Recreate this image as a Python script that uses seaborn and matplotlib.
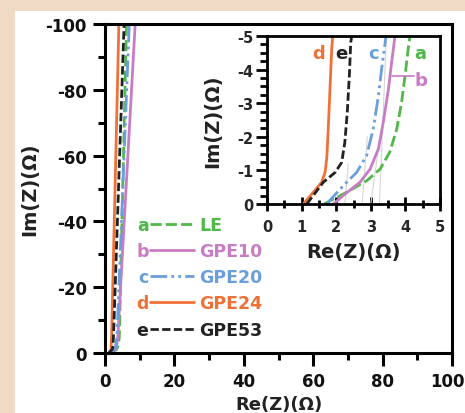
import numpy as np
import pandas as pd
import matplotlib
matplotlib.use("Agg")
import matplotlib.pyplot as plt
from matplotlib.patches import Rectangle
from matplotlib.ticker import MultipleLocator, FuncFormatter
import seaborn as sns

sns.set_theme(style="ticks")
plt.rcParams['font.family'] = ['DejaVu Sans']
plt.rcParams['font.weight'] = 'bold'
plt.rcParams['axes.unicode_minus'] = False

# ---- data (Re(Z), Im(Z)) per sample ----
letters = ['a', 'b', 'c', 'd', 'e']
names = ['LE', 'GPE10', 'GPE20', 'GPE24', 'GPE53']
colors = ['#4fb848', '#c77cc4', '#6b9fdc', '#ee7238', '#222222']

re_a = [1.65, 2.30, 2.88, 3.27, 3.55, 3.75, 3.89, 3.99, 4.08, 4.13, 6.2]
im_a = [0.0, -0.35, -0.69, -1.04, -1.55, -2.23, -3.03, -3.82, -4.61, -5.0, -100]
re_b = [1.92, 2.20, 2.69, 2.98, 3.22, 3.36, 3.51, 3.60, 3.70, 8.7]
im_b = [0.0, -0.25, -0.65, -1.04, -1.64, -2.43, -3.42, -4.20, -5.0, -100]
re_c = [1.72, 2.20, 2.59, 2.88, 3.07, 3.22, 3.31, 3.44, 7.0]
im_c = [0.0, -0.54, -0.94, -1.44, -2.23, -3.22, -4.00, -5.0, -100]
re_d = [1.05, 1.34, 1.58, 1.68, 1.73, 1.77, 1.82, 1.87, 1.90, 4.0]
im_d = [0.0, -0.35, -0.65, -0.95, -1.40, -2.23, -3.42, -4.61, -5.0, -100]
re_e = [1.15, 1.63, 1.97, 2.16, 2.25, 2.32, 2.38, 2.42, 2.45, 5.5]
im_e = [0.0, -0.65, -0.94, -1.24, -1.84, -2.73, -3.82, -4.81, -5.0, -100]

# faint grey fit lines in inset
grey_re = [[2.25, 2.35], [2.75, 2.90], [3.00, 3.20], [3.25, 3.45]]
grey_im = [[0, -1.2], [0, -2.0], [0, -1.5], [0, -5.0]]

frames = []
for L, N, re, im in zip(letters, names, [re_a, re_b, re_c, re_d, re_e],
                        [im_a, im_b, im_c, im_d, im_e]):
    frames.append(pd.DataFrame({'Re': re, 'Im': im, 'sample': N, 'letter': L}))
df = pd.concat(frames, ignore_index=True)

styles = {'LE': (0, (4, 1.5)), 'GPE10': '-', 'GPE20': (0, (6, 1.5, 1, 1.5, 1, 1.5)),
          'GPE24': '-', 'GPE53': (0, (3, 1.2))}

W, H = 465, 414
fig = plt.figure(figsize=(W / 100, H / 100), dpi=100)
fig.patch.set_facecolor('#f0dac6')
fig.patches.append(Rectangle((15 / W, 0), 1 - 15 / W, 1 - 12 / H, transform=fig.transFigure,
                             facecolor='white', edgecolor='none', zorder=-10))

ax = fig.add_axes([105 / W, 60 / H, 347 / W, 329 / H])
ax.set_facecolor('white')


def draw(axis, lw):
    handles = []
    for N, c in zip(names, colors):
        sub = df[df['sample'] == N]
        sns.lineplot(data=sub, x='Re', y='Im', ax=axis, color=c, lw=lw, sort=False,
                     estimator=None, linestyle=styles[N], legend=False)
        handles.append(axis.lines[-1])
    return handles


handles = draw(ax, 2.0)
XMAX = 100
ax.set_xlim(0, XMAX)
ax.set_ylim(0, -100)
ax.xaxis.set_major_locator(MultipleLocator(20))
ax.xaxis.set_minor_locator(MultipleLocator(10))
ax.yaxis.set_major_locator(MultipleLocator(20))
ax.yaxis.set_minor_locator(MultipleLocator(10))
# the last x label is drawn separately, nudged so it stays inside the picture
ax.xaxis.set_major_formatter(FuncFormatter(lambda v, p: '' if v >= XMAX else f'{v:g}'))
ax.tick_params(which='major', direction='out', length=9, width=2.2, labelsize=12,
               color='black', labelcolor='#111111', pad=5)
ax.tick_params(which='minor', direction='out', length=5, width=2.2, color='black')
ax.tick_params(axis='y', which='major', pad=4)
for s in ax.spines.values():
    s.set_linewidth(2.2)
    s.set_color('black')
ax.annotate(f'{XMAX:g}', xy=(XMAX, 0), xycoords=('data', 'axes fraction'),
            xytext=(-5, -19), textcoords='offset pixels', ha='center', va='top',
            fontsize=12, fontweight='bold', color='#111111', annotation_clip=False)
ax.set_xlabel('Re(Z)(Ω)', fontsize=13, fontweight='bold', color='#222222')
ax.set_ylabel('Im(Z)(Ω)', fontsize=14, fontweight='bold', color='#222222')
ax.xaxis.set_label_coords(0.5, -0.128)
ax.xaxis.label.set_va('top')
ax.yaxis.set_label_coords(-0.19, 0.5)
for t in ax.get_xticklabels() + ax.get_yticklabels():
    t.set_fontweight('bold')

# legend: letters + line, then names
fs = 12.5
leg1 = ax.legend(handles=handles, labels=letters, markerfirst=False, frameon=False,
                 loc='upper left', bbox_to_anchor=(136 / W, 1 - 217 / H), bbox_transform=fig.transFigure,
                 handlelength=2.5, handletextpad=0.1, labelspacing=0.47,
                 borderpad=0, borderaxespad=0, prop={'weight': 'bold', 'size': fs})
for t, c in zip(leg1.get_texts(), colors):
    t.set_color(c)
ax.add_artist(leg1)
leg2 = ax.legend(handles=handles, labels=names, frameon=False, loc='upper left',
                 bbox_to_anchor=(199 / W, 1 - 217 / H), bbox_transform=fig.transFigure,
                 handlelength=0, handletextpad=0, labelspacing=0.47,
                 borderpad=0, borderaxespad=0, prop={'weight': 'bold', 'size': fs})
for t, c in zip(leg2.get_texts(), colors):
    t.set_color(c)
for h in leg2.legend_handles:
    h.set_visible(False)

# inset
ins = fig.add_axes([267 / W, (H - 205) / H, 173 / W, 168 / H])
ins.set_facecolor('white')
for gr, gi in zip(grey_re, grey_im):
    ins.plot(gr, gi, color='#d5d5d5', lw=0.8, zorder=1)
draw(ins, 2.0)
ins.set_xlim(0, 5)
ins.set_ylim(0, -5)
ins.xaxis.set_major_locator(MultipleLocator(1))
ins.xaxis.set_minor_locator(MultipleLocator(0.5))
ins.yaxis.set_major_locator(MultipleLocator(1))
ins.yaxis.set_minor_locator(MultipleLocator(0.25))
ins.tick_params(axis='x', which='major', direction='inout', length=10, width=2, labelsize=10.5,
                color='black', pad=6)
ins.tick_params(axis='x', which='minor', direction='inout', length=6, width=2, color='black')
ins.tick_params(axis='y', which='major', direction='out', length=8, width=2, labelsize=10.5,
                color='black', pad=2)
ins.tick_params(axis='y', which='minor', direction='out', length=5, width=2, color='black')
for s in ins.spines.values():
    s.set_linewidth(2)
    s.set_color('black')
ins.set_xlabel('Re(Z)(Ω)', fontsize=14, fontweight='bold', color='#222222')
ins.set_ylabel('Im(Z)(Ω)', fontsize=14, fontweight='bold', color='#222222')
ins.xaxis.set_label_coords(0.5, -0.225)
ins.xaxis.label.set_va('top')
ins.yaxis.set_label_coords(-0.26, 0.5)
for t in ins.get_xticklabels() + ins.get_yticklabels():
    t.set_fontweight('bold')

lab_pos = {'d': (1.48, -4.5), 'e': (2.16, -4.5), 'c': (3.07, -4.5), 'a': (4.42, -4.5), 'b': (4.45, -3.7)}
for L, c in zip(letters, colors):
    x, y = lab_pos[L]
    ins.text(x, y, L, color=c, fontsize=13, fontweight='bold', ha='center', va='center')
ins.plot([3.6, 4.25], [-3.82, -3.82], color=colors[1], lw=1.2)

fig.savefig('out.png', dpi=100, facecolor=fig.get_facecolor())
